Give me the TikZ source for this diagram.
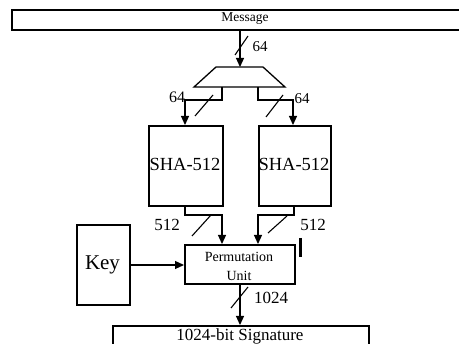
\documentclass[tikz,border=0pt]{standalone}
\usepackage{fontspec}
\setmainfont{Liberation Serif}
\usetikzlibrary{arrows.meta}
\begin{document}
\begin{tikzpicture}[x=1pt,y=-1pt,
  box/.style={draw,line width=1.6pt,inner sep=0pt},
  conn/.style={line width=1.2pt},
  arr/.style={conn,-{Triangle[width=8pt,length=9pt]}},
  slash/.style={line width=1.1pt},
  lbl/.style={inner sep=0pt,font=\fontsize{15}{15}\selectfont}]
\useasboundingbox (0,0) rectangle (459,344);
% boxes
\node[box,minimum width=459pt,minimum height=20pt,anchor=north west] (msg) at (11,9) {};
\node[inner sep=0pt,font=\fontsize{13.5}{13.5}\selectfont] (msgt) at (245,19) {Message};
\draw[line width=1.3pt] (216,67) -- (263,67) -- (285,87) -- (194,87) -- cycle;
\coordinate (muxtop) at (240,67);
\coordinate (muxl) at (222,87);
\coordinate (muxr) at (258,87);
\node[box,minimum width=74pt,minimum height=80pt,anchor=north west] (shaL) at (148,125) {};
\node[box,minimum width=72pt,minimum height=80pt,anchor=north west] (shaR) at (258,125) {};
\node[inner sep=0pt,font=\fontsize{18.5}{18.5}\selectfont] (shaLt) at (185,164) {SHA-512};
\node[inner sep=0pt,font=\fontsize{18.5}{18.5}\selectfont] (shaRt) at (294,164) {SHA-512};
\node[box,minimum width=110pt,minimum height=39pt,anchor=north west] (perm) at (184,244) {};
\node[inner sep=0pt,font=\fontsize{14}{14}\selectfont] (permt1) at (239,257) {Permutation};
\node[inner sep=0pt,font=\fontsize{14}{14}\selectfont] (permt2) at (239,276) {Unit};
\node[box,minimum width=53pt,minimum height=80pt,anchor=north west] (key) at (76,224) {};
\node[inner sep=0pt,font=\fontsize{21}{21}\selectfont] (keyt) at (102.5,265) {Key};
\node[box,minimum width=256pt,minimum height=25pt,anchor=north west] (sig) at (112,325) {};
\node[inner sep=0pt,font=\fontsize{17}{17}\selectfont,anchor=north] (sigt) at (240,329) {1024-bit Signature};
% connectors
\draw[arr] (msg.south -| muxtop) -- (muxtop);
\draw[arr] (muxl) -- (222,100) -- (185,100) -- (shaL.north -| 185,0);
\draw[arr] (muxr) -- (258,100) -- (293,100) -- (shaR.north -| 293,0);
\draw[arr] (shaL.south -| 185,0) -- (185,215) -- (222,215) -- (perm.north -| 222,0);
\draw[arr] (shaR.south -| 294,0) -- (294,215) -- (258,215) -- (perm.north -| 258,0);
\draw[arr] (key.east |- 0,265) -- (perm.west |- 0,265);
\draw[arr] (perm.south -| 240,0) -- (sig.north -| 240,0);
\draw[line width=3pt] (300,238) -- (300,257);
% slashes
\draw[slash] (235,55) -- (248,36);
\draw[slash] (195,116) -- (213,95);
\draw[slash] (266,117) -- (283,95);
\draw[slash] (192,236) -- (211,215);
\draw[slash] (268,233) -- (287,216);
\draw[slash] (231,308) -- (248,287);
% labels
\node[lbl] (l64a) at (260,47) {64};
\node[lbl,font=\fontsize{16}{16}\selectfont] (l64b) at (177,97) {64};
\node[lbl] (l64c) at (302,99) {64};
\node[lbl,font=\fontsize{17}{17}\selectfont] (l512a) at (167,225) {512};
\node[lbl,font=\fontsize{17}{17}\selectfont] (l512b) at (313,225) {512};
\node[lbl,font=\fontsize{17}{17}\selectfont] (l1024) at (271,298) {1024};
\end{tikzpicture}
\end{document}
